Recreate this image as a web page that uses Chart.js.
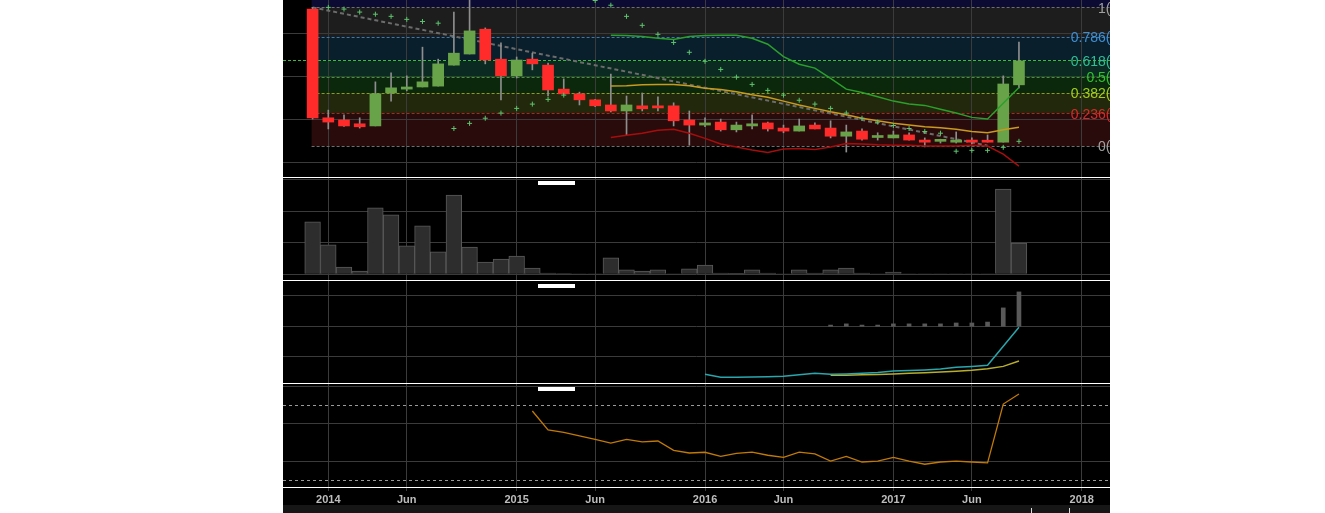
<!DOCTYPE html>
<html>
<head>
<meta charset="utf-8">
<script src="https://cdn.jsdelivr.net/npm/chart.js@4.4.1/dist/chart.umd.min.js"></script>
<style>
  body { margin: 0; background: #ffffff; }
  #wrap { position: absolute; left: 283px; top: 0; width: 827px; height: 513px; background: #000000; overflow: hidden; }
  #wrap canvas { position: absolute; left: 0; }
  .sep { position: absolute; left: 0; width: 827px; height: 1px; background: #ffffff; }
  #strip { position: absolute; left: 0; top: 505px; width: 827px; height: 8px; background: #161616; }
  .mark { position: absolute; top: 3px; width: 1px; height: 5px; background: #dddddd; }
</style>
</head>
<body>
<div id="wrap">
  <canvas id="cPrice" width="827" height="177" style="top:0px"></canvas>
  <div class="sep" style="top:177px"></div>
  <canvas id="cVol" width="827" height="102" style="top:178px"></canvas>
  <div class="sep" style="top:280px"></div>
  <canvas id="cInd" width="827" height="102" style="top:281px"></canvas>
  <div class="sep" style="top:383px"></div>
  <canvas id="cRsi" width="827" height="121" style="top:384px"></canvas>
  <div id="strip"><div class="mark" style="left:748px"></div><div class="mark" style="left:786px"></div></div>
</div>
<script>
// monthly candles, Dec 2013 - Sep 2017
const months = [
  '2013-12',
  '2014-01', '2014-02', '2014-03', '2014-04', '2014-05', '2014-06', '2014-07', '2014-08', '2014-09', '2014-10', '2014-11', '2014-12',
  '2015-01', '2015-02', '2015-03', '2015-04', '2015-05', '2015-06', '2015-07', '2015-08', '2015-09', '2015-10', '2015-11', '2015-12',
  '2016-01', '2016-02', '2016-03', '2016-04', '2016-05', '2016-06', '2016-07', '2016-08', '2016-09', '2016-10', '2016-11', '2016-12',
  '2017-01', '2017-02', '2017-03', '2017-04', '2017-05', '2017-06', '2017-07', '2017-08', '2017-09'
];
const open = [
  4.58,
  2.04, 1.99, 1.90, 1.85, 2.62, 2.71, 2.76, 2.78, 3.27, 3.53, 4.11, 3.41,
  3.02, 3.41, 3.27, 2.71, 2.60, 2.46, 2.34, 2.20, 2.32, 2.32, 2.32, 1.99,
  1.87, 1.94, 1.76, 1.85, 1.92, 1.80, 1.73, 1.87, 1.80, 1.61, 1.73, 1.58,
  1.57, 1.64, 1.52, 1.49, 1.47, 1.52, 1.50, 1.47, 2.81
];
const high = [
  4.62,
  2.22, 2.11, 2.04, 2.88, 3.09, 3.02, 3.69, 3.41, 4.51, 4.85, 4.14, 3.79,
  3.46, 3.55, 3.32, 2.95, 2.64, 2.47, 3.06, 2.55, 2.62, 2.53, 2.39, 2.20,
  2.04, 2.01, 1.94, 2.11, 1.94, 1.87, 2.01, 1.92, 1.97, 1.87, 1.78, 1.69,
  1.73, 1.69, 1.57, 1.54, 1.71, 1.57, 1.64, 3.02, 3.81
];
const low = [
  2.01,
  1.78, 1.84, 1.80, 1.85, 2.43, 2.67, 2.76, 2.78, 3.27, 3.53, 3.30, 2.46,
  2.97, 3.16, 2.55, 2.59, 2.34, 2.30, 2.18, 1.64, 2.20, 2.20, 1.85, 1.40,
  1.83, 1.73, 1.71, 1.78, 1.73, 1.69, 1.73, 1.78, 1.57, 1.24, 1.52, 1.52,
  1.57, 1.52, 1.36, 1.45, 1.45, 1.43, 1.47, 1.47, 2.74
];
const close = [
  2.04,
  1.94, 1.85, 1.83, 2.60, 2.74, 2.76, 2.88, 3.30, 3.55, 4.07, 3.39, 3.02,
  3.39, 3.30, 2.69, 2.60, 2.46, 2.32, 2.20, 2.34, 2.25, 2.27, 1.97, 1.87,
  1.92, 1.76, 1.87, 1.90, 1.78, 1.73, 1.85, 1.78, 1.61, 1.71, 1.54, 1.60,
  1.64, 1.52, 1.47, 1.51, 1.52, 1.47, 1.47, 2.83, 3.37
];
const sar = [
  null,
  4.62, 4.58, 4.51, 4.46, 4.41, 4.34, 4.29, 4.25, 1.79, 1.91, 2.03, 2.15,
  2.26, 2.36, 2.47, 2.57, 5.03, 4.78, 4.67, 4.41, 4.20, 3.99, 3.80, 3.57,
  3.36, 3.17, 2.99, 2.82, 2.68, 2.57, 2.45, 2.36, 2.26, 2.15, 2.03, 1.94,
  1.86, 1.79, 1.72, 1.68, 1.26, 1.28, 1.28, 1.35, 1.49
];
const bbUpper = [
  null,
  null, null, null, null, null, null, null, null, null, null, null, null,
  null, null, null, null, null, null, 3.97, 3.96, 3.94, 3.90, 3.87, 3.94,
  3.96, 3.97, 3.97, 3.90, 3.76, 3.47, 3.29, 3.20, 2.96, 2.71, 2.63, 2.53,
  2.43, 2.36, 2.33, 2.24, 2.15, 2.05, 2.01, 2.38, 2.75
];
const bbMiddle = [
  null,
  null, null, null, null, null, null, null, null, null, null, null, null,
  null, null, null, null, null, null, 2.78, 2.79, 2.81, 2.82, 2.82, 2.79,
  2.73, 2.70, 2.65, 2.58, 2.52, 2.43, 2.34, 2.26, 2.18, 2.11, 2.03, 1.97,
  1.91, 1.87, 1.83, 1.81, 1.77, 1.72, 1.69, 1.76, 1.82
];
const bbLower = [
  null,
  null, null, null, null, null, null, null, null, null, null, null, null,
  null, null, null, null, null, null, 1.58, 1.63, 1.68, 1.75, 1.77, 1.68,
  1.56, 1.43, 1.36, 1.29, 1.23, 1.31, 1.32, 1.30, 1.36, 1.44, 1.43, 1.41,
  1.40, 1.40, 1.38, 1.38, 1.38, 1.40, 1.38, 1.19, 0.91
];
// volume, millions
const volume = [
  1.66,
  0.93, 0.23, 0.10, 2.10, 1.88, 0.90, 1.53, 0.71, 2.51, 0.86, 0.39, 0.48,
  0.58, 0.20, 0.04, 0.02, 0.01, 0.01, 0.52, 0.14, 0.10, 0.14, 0.01, 0.17,
  0.29, 0.04, 0.03, 0.14, 0.04, 0.01, 0.14, 0.04, 0.14, 0.20, 0.04, 0.01,
  0.07, 0.01, 0.01, 0.01, 0.01, 0.01, 0.01, 2.70, 0.99
];
// third pane: histogram + two lines
const indBars = [
  null,
  null, null, null, null, null, null, null, null, null, null, null, null,
  null, null, null, null, null, null, null, null, null, null, null, null,
  null, null, null, null, null, null, null, null, 0.04, 0.08, 0.04, 0.04,
  0.08, 0.08, 0.08, 0.08, 0.11, 0.11, 0.14, 0.61, 1.14
];
const indCyan = [
  null,
  null, null, null, null, null, null, null, null, null, null, null, null,
  null, null, null, null, null, null, null, null, null, null, null, null,
  0.40, 0.30, 0.30, 0.31, 0.32, 0.33, 0.38, 0.43, 0.40, 0.41, 0.43, 0.46,
  0.51, 0.52, 0.54, 0.57, 0.63, 0.66, 0.70, 1.33, 1.96
];
const indYellow = [
  null,
  null, null, null, null, null, null, null, null, null, null, null, null,
  null, null, null, null, null, null, null, null, null, null, null, null,
  null, null, null, null, null, null, null, null, 0.37, 0.37, 0.38, 0.39,
  0.41, 0.43, 0.45, 0.47, 0.50, 0.53, 0.58, 0.66, 0.84
];
const rsi = [
  null,
  null, null, null, null, null, null, null, null, null, null, null, null,
  null, 66.8, 56.7, 55.4, 53.5, 51.7, 49.7, 51.7, 50.3, 50.8, 45.8, 44.4,
  44.8, 42.6, 44.2, 44.9, 43.2, 42.1, 44.9, 43.9, 40.1, 42.6, 39.6, 40.1,
  42.1, 40.1, 38.4, 39.6, 40.1, 39.6, 39.1, 70.5, 75.9
];
const rsiLevels = [30, 70];

// fibonacci retracement and trendline drawn on the price pane
const fibHigh = 4.62;
const fibLow = 1.38;
const fibStart = '2013-12';
const fibLevels = [0, 0.236, 0.382, 0.5, 0.618, 0.786, 1];
const trendStart = ['2013-12', 4.62];
const trendEnd = ['2017-07', 1.39];

const xTickMonths = ['2014-01', '2014-06', '2015-01', '2015-06', '2016-01', '2016-06', '2017-01', '2017-06', '2018-01'];
const xTickLabels = ['2014', 'Jun', '2015', 'Jun', '2016', 'Jun', '2017', 'Jun', '2018'];

// styles
const fibBandColors = ['#2a0b0b', '#21280b', '#0b280c', '#0a2a22', '#0a1f2c', '#1d1d1d'];
const fibAboveColor = '#0b0b33';
const fibLineColors = ['#6e6e6e', '#a82828', '#8c9c1c', '#2f9f2f', '#3cbc3c', '#3a78b0', '#6e6e6e'];
const fibTextColors = ['#a0a0a0', '#d62a2a', '#a3cc1e', '#2fc22f', '#2fbf96', '#3d8fd4', '#a0a0a0'];
const gridColor = '#3b3b3b';
const upColor = '#68a349';
const downColor = '#ff2b2b';
const X_MIN = -2.886, X_MAX = 49.80;

function monthIndex(s) {
  const [yy, mm] = s.split('-').map(Number);
  return (yy - 2014) * 12 + (mm - 1);
}
const xs = months.map(monthIndex);
const pts = arr => xs.map((x, i) => ({ x, y: arr[i] })).filter(p => p.y !== null);

function xScale(showLabels) {
  return {
    type: 'linear', min: X_MIN, max: X_MAX, offset: false,
    afterBuildTicks: s => { s.ticks = xTickMonths.map(m => ({ value: monthIndex(m) })); },
    grid: { color: gridColor, offset: false, drawTicks: showLabels, tickLength: 4, tickColor: gridColor },
    border: { display: showLabels, color: '#ffffff' },
    ticks: {
      display: showLabels, autoSkip: false, maxRotation: 0, padding: 2, color: '#bdbdbd',
      font: { family: 'Liberation Sans', size: 11, weight: 'bold' },
      callback: (v, i) => xTickLabels[i]
    },
    afterFit: s => { s.height = showLabels ? 18 : 0; }
  };
}
function yScale(min, max, vals) {
  return {
    type: 'linear', min, max, beginAtZero: false,
    afterBuildTicks: s => { s.ticks = vals.map(v => ({ value: v })); },
    grid: { color: gridColor, drawTicks: false },
    border: { display: false },
    ticks: { display: false },
    afterFit: s => { s.width = 0; }
  };
}
const baseOptions = {
  responsive: false, animation: false, devicePixelRatio: 1,
  layout: { padding: 0, autoPadding: false },
  plugins: { legend: { display: false }, tooltip: { enabled: false } },
  events: []
};

// white drag handle at the top of the lower panes
const handlePlugin = {
  id: 'handle',
  afterDraw(chart) {
    chart.ctx.save();
    chart.ctx.fillStyle = '#ffffff';
    chart.ctx.fillRect(255, 3, 37, 4);
    chart.ctx.restore();
  }
};

const fibPlugin = {
  id: 'fib',
  beforeDraw(chart) {
    const { ctx, chartArea: a, scales: { x, y } } = chart;
    const x0 = x.getPixelForValue(monthIndex(fibStart)) - 1;
    const py = lv => y.getPixelForValue(fibLow + lv * (fibHigh - fibLow));
    ctx.save();
    ctx.beginPath();
    ctx.rect(a.left, a.top, a.width, a.height);
    ctx.clip();
    ctx.fillStyle = fibAboveColor;
    ctx.fillRect(x0, a.top, a.right - x0, py(1) - a.top);
    for (let i = 0; i < fibLevels.length - 1; i++) {
      const top = py(fibLevels[i + 1]), bot = py(fibLevels[i]);
      ctx.fillStyle = fibBandColors[i];
      ctx.fillRect(x0, top, a.right - x0, bot - top);
    }
    ctx.restore();
  },
  beforeDatasetsDraw(chart) {
    const { ctx, chartArea: a, scales: { x, y } } = chart;
    const x0 = x.getPixelForValue(monthIndex(fibStart)) - 1;
    ctx.save();
    ctx.lineWidth = 1;
    ctx.setLineDash([3, 2]);
    fibLevels.forEach((lv, i) => {
      const yy = Math.round(y.getPixelForValue(fibLow + lv * (fibHigh - fibLow))) + 0.5;
      ctx.strokeStyle = fibLineColors[i];
      ctx.beginPath();
      ctx.moveTo(lv === 0.618 ? a.left : x0, yy);
      ctx.lineTo(a.right, yy);
      ctx.stroke();
    });
    ctx.restore();
  },
  afterDatasetsDraw(chart) {
    const { ctx, chartArea: a, scales: { y } } = chart;
    ctx.save();
    ctx.font = "14px 'Liberation Sans'";
    ctx.textBaseline = 'middle';
    ctx.textAlign = 'left';
    fibLevels.forEach((lv, i) => {
      const price = fibLow + lv * (fibHigh - fibLow);
      const prefix = lv + '(';
      const w = ctx.measureText(prefix).width;
      ctx.fillStyle = fibTextColors[i];
      ctx.fillText(prefix + price.toFixed(2) + ')', a.right + 0.5 - w, y.getPixelForValue(price) + 1.5);
    });
    ctx.restore();
  }
};

// price pane
new Chart(document.getElementById('cPrice'), {
  type: 'bar',
  data: {
    datasets: [{
      type: 'line', order: 6,
      data: [{ x: monthIndex(trendStart[0]), y: trendStart[1] }, { x: monthIndex(trendEnd[0]), y: trendEnd[1] }],
      borderColor: '#6c6c6c', borderWidth: 2, borderDash: [4, 3], pointRadius: 0
    }, {
      order: 5, grouped: false, barThickness: 1,
      data: xs.map((x, i) => ({ x, y: [low[i], high[i]] })),
      backgroundColor: '#8e8e8e', borderWidth: 0
    }, {
      order: 4, grouped: false, barThickness: 11, minBarLength: 2,
      data: xs.map((x, i) => ({ x, y: [open[i], close[i]] })),
      backgroundColor: c => close[c.dataIndex] >= open[c.dataIndex] ? upColor : downColor,
      borderWidth: 0
    }, {
      type: 'line', order: 3, data: pts(bbMiddle),
      borderColor: '#c89a1e', borderWidth: 1.5, pointRadius: 0, tension: 0
    }, {
      type: 'line', order: 3, data: pts(bbUpper),
      borderColor: '#2b9f2b', borderWidth: 1.5, pointRadius: 0, tension: 0
    }, {
      type: 'line', order: 3, data: pts(bbLower),
      borderColor: '#a80d0d', borderWidth: 1.5, pointRadius: 0, tension: 0
    }, {
      type: 'line', order: 1, data: pts(sar), showLine: false,
      pointStyle: 'cross', pointRadius: 2.5, borderColor: '#5ec46e', borderWidth: 1
    }]
  },
  options: {
    ...baseOptions,
    scales: { x: xScale(false), y: yScale(0.657, 4.792, [1, 2, 3, 4]) }
  },
  plugins: [fibPlugin]
});

// volume pane
new Chart(document.getElementById('cVol'), {
  type: 'bar',
  data: {
    datasets: [{
      data: pts(volume),
      backgroundColor: '#2d2d2d', borderColor: '#5a5a5a', borderWidth: 1,
      barPercentage: 1, categoryPercentage: 1
    }]
  },
  options: {
    ...baseOptions,
    scales: { x: xScale(false), y: yScale(-0.180, 3.047, [0, 1, 2, 3]) }
  },
  plugins: [handlePlugin]
});

// third pane
new Chart(document.getElementById('cInd'), {
  type: 'bar',
  data: {
    datasets: [{
      order: 3, yAxisID: 'y2', data: pts(indBars),
      backgroundColor: '#595959', barThickness: 4, borderWidth: 0
    }, {
      type: 'line', order: 2, data: pts(indYellow),
      borderColor: '#b8ae2c', borderWidth: 1.5, pointRadius: 0
    }, {
      type: 'line', order: 1, data: pts(indCyan),
      borderColor: '#2aa6ad', borderWidth: 1.5, pointRadius: 0
    }]
  },
  options: {
    ...baseOptions,
    scales: {
      x: xScale(false),
      y: yScale(0.109, 3.493, [1, 2, 3]),
      y2: { type: 'linear', display: false, min: -1.881, max: 1.502 }
    }
  },
  plugins: [handlePlugin]
});

// RSI-style pane with the date axis
new Chart(document.getElementById('cRsi'), {
  type: 'line',
  data: {
    datasets: [{
      data: pts(rsi),
      borderColor: '#c27a06', borderWidth: 1.3, pointRadius: 0
    }]
  },
  options: {
    ...baseOptions,
    scales: { x: xScale(true), y: yScale(26.27, 81.2, [40, 60, 80]) }
  },
  plugins: [handlePlugin, {
    id: 'levels',
    beforeDatasetsDraw(chart) {
      const { ctx, chartArea: a, scales: { y } } = chart;
      ctx.save();
      ctx.strokeStyle = '#9a9a9a';
      ctx.lineWidth = 1;
      ctx.setLineDash([3, 3]);
      rsiLevels.forEach(v => {
        const yy = Math.round(y.getPixelForValue(v)) + 0.5;
        ctx.beginPath();
        ctx.moveTo(a.left, yy);
        ctx.lineTo(a.right, yy);
        ctx.stroke();
      });
      ctx.restore();
    }
  }]
});
</script>
</body>
</html>
